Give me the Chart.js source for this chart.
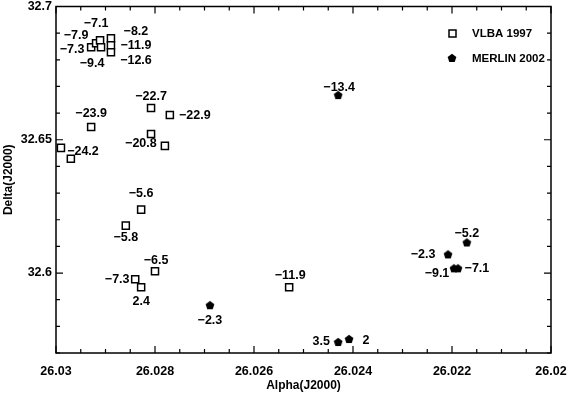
<!DOCTYPE html>
<html>
<head>
<meta charset="utf-8">
<script src="https://cdn.jsdelivr.net/npm/chart.js@4/dist/chart.umd.min.js"></script>
<style>
  html, body { margin: 0; padding: 0; background: #fff; }
  #wrap { width: 568px; height: 394px; position: relative; }
</style>
</head>
<body>
<div id="wrap"><canvas id="maser"></canvas></div>
<script>
// VLBA 1997 spots
const vlbaAlpha = [26.02929, 26.02919, 26.02911, 26.02909, 26.02889, 26.02889, 26.02889,
  26.02929, 26.0299, 26.0297, 26.02808, 26.0277, 26.02808, 26.0278,
  26.02828, 26.02859, 26.028, 26.0284, 26.02828, 26.02529];
const vlbaDelta = [32.68468, 32.68618, 32.6873, 32.68468, 32.68805, 32.68543, 32.68282,
  32.6548, 32.64696, 32.64285, 32.6619, 32.65928, 32.65219, 32.6477,
  32.6238, 32.6178, 32.60064, 32.59765, 32.59466, 32.59466];
const vlbaVel = [-7.3, -7.9, -7.1, -9.4, -8.2, -11.9, -12.6,
  -23.9, -24.2, null, -22.7, -22.9, null, -20.8,
  -5.6, -5.8, -6.5, -7.3, 2.4, -11.9];

// MERLIN 2002 spots
const merlinAlpha = [26.02689, 26.0243, 26.0217, 26.02208, 26.02196, 26.02188, 26.0243, 26.02408];
const merlinDelta = [32.58793, 32.66675, 32.61147, 32.607, 32.60175, 32.60175, 32.57411, 32.57523];
const merlinVel = [-2.3, -13.4, -5.2, -2.3, -9.1, -7.1, 3.5, 2];

const seriesNames = ["VLBA 1997", "MERLIN 2002"];
const xTicks = [26.03, 26.028, 26.026, 26.024, 26.022, 26.02];
const yTicks = [32.6, 32.65, 32.7];

// where each velocity label sits relative to its spot (px)
const vlbaLabelOff = [[-19, 2], [-20, -8], [-4, -17], [-9, 16], [25, -7], [25, 0], [25, 8],
  [0, -13], [22, 4], null, [0, -12], [25, 1], null, [-24, -2],
  [0, -16], [0, 12], [1, -11], [-18, 0], [0, 14], [1, -12]];
const merlinLabelOff = [[0, 15], [1, -8], [0, -9], [-25, 0], [-17, 5], [19, 0], [-17, 0], [17, 1]];

const FONT = "'Liberation Sans', Arial, sans-serif";

function pentagon() {
  const c = document.createElement("canvas");
  c.width = 10; c.height = 10;
  const g = c.getContext("2d");
  g.fillStyle = "#000";
  g.beginPath();
  for (let i = 0; i < 5; i++) {
    const a = -Math.PI / 2 + i * 2 * Math.PI / 5;
    const px = 5 + 4.6 * Math.cos(a), py = 5.4 + 4.6 * Math.sin(a);
    i ? g.lineTo(px, py) : g.moveTo(px, py);
  }
  g.closePath();
  g.fill();
  return c;
}
const pent = pentagon();

const fmtVel = v => String(v).replace("-", "\u2212");

const frame = {
  id: "frame",
  afterDraw(chart) {
    const { ctx, chartArea: a, scales: { x, y } } = chart;
    ctx.save();
    ctx.strokeStyle = "#000";
    ctx.lineWidth = 1.5;
    ctx.strokeRect(a.left, a.top, a.right - a.left, a.bottom - a.top);

    // ticks on all four sides
    ctx.lineWidth = 1.2;
    ctx.beginPath();
    for (let k = 0; k <= 20; k++) {
      const v = 26.02 + k * 0.0005;
      const px = x.getPixelForValue(v);
      const len = k % 4 === 0 ? 7 : 4;
      ctx.moveTo(px, a.bottom); ctx.lineTo(px, a.bottom - len);
      ctx.moveTo(px, a.top); ctx.lineTo(px, a.top + len);
    }
    for (let k = 0; k <= 13; k++) {
      const v = 32.57 + k * 0.01;
      const py = y.getPixelForValue(v);
      const len = (k + 2) % 5 === 0 ? 7 : 4;
      ctx.moveTo(a.left, py); ctx.lineTo(a.left + len, py);
      ctx.moveTo(a.right, py); ctx.lineTo(a.right - len, py);
    }
    ctx.stroke();

    // velocity labels
    ctx.fillStyle = "#000";
    ctx.font = "bold 12.5px " + FONT;
    ctx.textAlign = "center";
    ctx.textBaseline = "middle";
    const sets = [[vlbaVel, vlbaLabelOff], [merlinVel, merlinLabelOff]];
    sets.forEach(([vel, off], di) => {
      chart.getDatasetMeta(di).data.forEach((pt, i) => {
        if (vel[i] === null || !off[i]) return;
        ctx.fillText(fmtVel(vel[i]), pt.x + off[i][0], pt.y + off[i][1]);
      });
    });

    // legend
    ctx.font = "bold 11.5px " + FONT;
    ctx.textAlign = "left";
    ctx.lineWidth = 1.5;
    ctx.strokeRect(449, 30, 7, 7);
    ctx.fillText(seriesNames[0], 472, 34);
    ctx.drawImage(pent, 447, 53);
    ctx.fillText(seriesNames[1], 472, 59);
    ctx.restore();
  }
};

new Chart(document.getElementById("maser"), {
  type: "scatter",
  data: {
    datasets: [
      {
        label: seriesNames[0],
        data: vlbaAlpha.map((a, i) => ({ x: a, y: vlbaDelta[i] })),
        pointStyle: "rect",
        pointRadius: 5,
        pointBorderWidth: 1.5,
        pointBorderColor: "#000",
        pointBackgroundColor: "#fff"
      },
      {
        label: seriesNames[1],
        data: merlinAlpha.map((a, i) => ({ x: a, y: merlinDelta[i] })),
        pointStyle: pent,
        pointRadius: 5
      }
    ]
  },
  options: {
    responsive: true,
    maintainAspectRatio: false,
    animation: false,
    layout: { padding: { top: 5, right: 17, left: 0, bottom: 0 } },
    plugins: { legend: { display: false }, tooltip: { enabled: false } },
    scales: {
      x: {
        type: "linear",
        reverse: true,
        min: 26.02,
        max: 26.03,
        afterBuildTicks: s => { s.ticks = xTicks.map(v => ({ value: v })); },
        afterFit: s => { s.height = 41; s.paddingLeft = 0; s.paddingRight = 0; },
        grid: { display: false, drawTicks: false },
        border: { display: false },
        ticks: {
          color: "#000",
          padding: 11,
          maxRotation: 0,
          autoSkip: false,
          font: { family: FONT, size: 12.5, weight: "bold" },
          callback: v => String(+v.toFixed(3))
        },
        title: {
          display: true,
          text: "Alpha(J2000)",
          color: "#000",
          padding: { top: 0, bottom: 1 },
          font: { family: FONT, size: 12, weight: "bold" }
        }
      },
      y: {
        type: "linear",
        min: 32.57,
        max: 32.7,
        afterBuildTicks: s => { s.ticks = yTicks.map(v => ({ value: v })); },
        afterFit: s => { s.width = 56; s.paddingTop = 0; s.paddingBottom = 0; },
        grid: { display: false, drawTicks: false },
        border: { display: false },
        ticks: {
          color: "#000",
          padding: 4,
          autoSkip: false,
          font: { family: FONT, size: 12.5, weight: "bold" },
          callback: v => String(+v.toFixed(2))
        },
        title: {
          display: true,
          text: "Delta(J2000)",
          color: "#000",
          padding: { top: 1, bottom: 0 },
          font: { family: FONT, size: 12, weight: "bold" }
        }
      }
    }
  },
  plugins: [frame]
});
</script>
</body>
</html>
